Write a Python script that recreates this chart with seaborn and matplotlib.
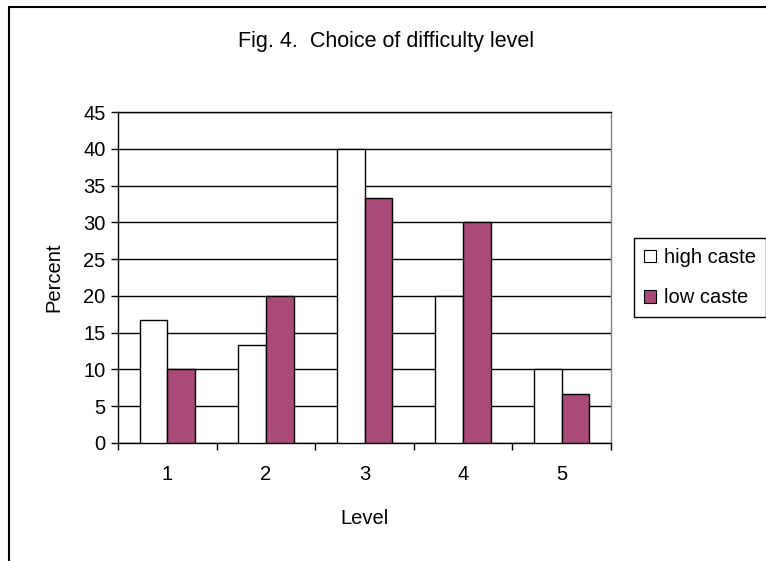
import pandas as pd
import matplotlib
matplotlib.use('Agg')
import matplotlib.pyplot as plt
import matplotlib.patches as mpatches
import seaborn as sns

# Values
levels = ['1', '2', '3', '4', '5']
high_caste = [16.7, 13.3, 40.0, 20.0, 10.0]
low_caste = [10.0, 20.0, 33.3, 30.0, 6.7]
groups = ['high caste', 'low caste']
colors = ['white', '#AA4A79']

df = pd.DataFrame({
    'Level': levels * 2,
    'Percent': high_caste + low_caste,
    'Group': [groups[0]] * len(levels) + [groups[1]] * len(levels),
})

sns.set_style('white')
plt.rcParams['font.family'] = ['Liberation Sans', 'DejaVu Sans']
plt.rcParams['text.color'] = 'black'
plt.rcParams['axes.labelcolor'] = 'black'
plt.rcParams['xtick.color'] = 'black'
plt.rcParams['ytick.color'] = 'black'

fs = 14.5

fig = plt.figure(figsize=(7.66, 5.61), dpi=100)
ax = fig.add_axes([118 / 766, 1 - 443 / 561, (611 - 118) / 766, (443 - 112) / 561])

sns.barplot(data=df, x='Level', y='Percent', hue='Group', palette=colors,
            saturation=1, width=0.56, edgecolor='black', linewidth=1, ax=ax,
            legend=False, zorder=3)

ax.set_xlim(-0.5, 4.5)
ax.set_ylim(0, 45)
ax.set_yticks(range(0, 46, 5))
ax.yaxis.grid(True, color='black', linewidth=1, zorder=0)
ax.set_axisbelow(True)

# ticks between categories, labels at centres
ax.set_xticks([i - 0.5 for i in range(len(levels) + 1)])
ax.set_xticklabels([])
ax.set_xticks(range(len(levels)), minor=True)
ax.set_xticklabels(levels, minor=True)
ax.tick_params(axis='x', which='major', direction='out', length=5, width=1,
               bottom=True)
ax.tick_params(axis='x', which='minor', length=0, pad=16, labelsize=fs)
ax.tick_params(axis='y', direction='out', length=5, width=1,
               left=True, pad=4, labelsize=fs)

for side in ['left', 'bottom', 'top']:
    ax.spines[side].set_color('black')
    ax.spines[side].set_linewidth(1)
ax.spines['right'].set_color('#808080')
ax.spines['right'].set_linewidth(1)

ax.set_xlabel('Level', fontsize=fs, labelpad=18)
ax.set_ylabel('Percent', fontsize=fs, labelpad=14)

fig.suptitle('Fig. 4.  Choice of difficulty level', fontsize=15.5,
             x=386 / 766, y=1 - 42 / 561, va='center')

handles = [mpatches.Patch(facecolor=c, edgecolor='black', linewidth=0.8, label=g)
           for c, g in zip(colors, groups)]
leg = fig.legend(handles=handles, loc='upper left',
                 bbox_to_anchor=(634 / 766, 1 - 238 / 561), fontsize=fs,
                 frameon=True, fancybox=False, framealpha=1, edgecolor='black',
                 handlelength=0.6, handleheight=0.6, handletextpad=0.4,
                 borderpad=0.5, labelspacing=1.05, borderaxespad=0)
leg.get_frame().set_linewidth(1)

# outer chart frame (cut by the image edges)
frame = mpatches.Rectangle((9 / 766, -0.1), 1.2, 1.1 - 7 / 561,
                           transform=fig.transFigure, fill=False,
                           edgecolor='black', linewidth=1.5, clip_on=False)
fig.patches.append(frame)

fig.savefig('out.png', dpi=100)
